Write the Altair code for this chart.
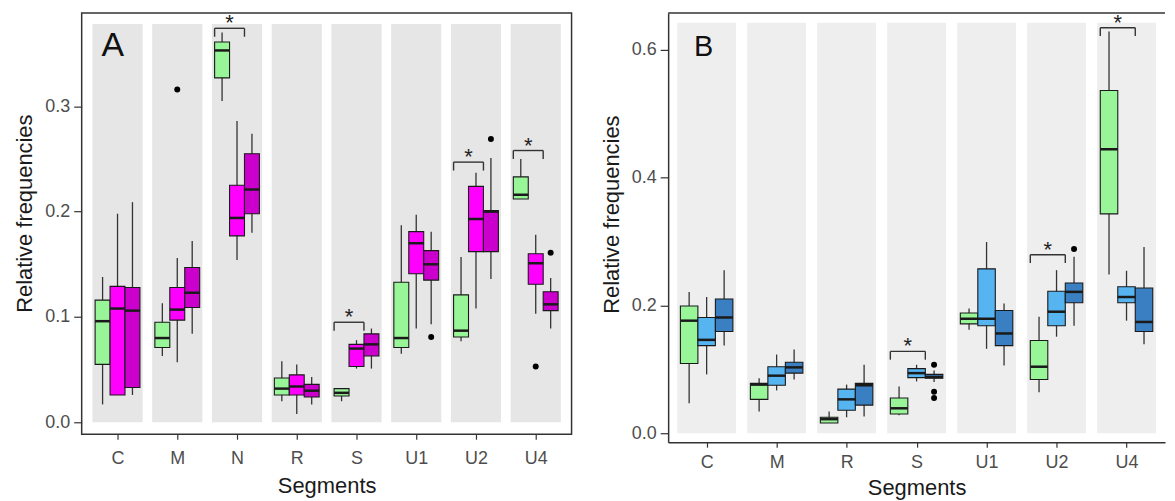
import altair as alt
import pandas as pd

# ---------------- data ----------------
# each box: [lower whisker, Q1, median, Q3, upper whisker]
segments_A = ["C", "M", "N", "R", "S", "U1", "U2", "U4"]
groups_A = ["Group 0", "Group 1", "Group 2"]
colors_A = ["#98f598", "#ff00ff", "#cc00cc"]
green_A = [
    [0.017, 0.055, 0.096, 0.116, 0.138],
    [0.063, 0.071, 0.080, 0.095, 0.113],
    [0.305, 0.327, 0.353, 0.361, 0.370],
    [0.020, 0.026, 0.032, 0.042, 0.058],
    [0.020, 0.025, 0.028, 0.032, 0.032],
    [0.065, 0.071, 0.080, 0.133, 0.187],
    [0.077, 0.081, 0.087, 0.121, 0.157],
    [0.212, 0.212, 0.216, 0.233, 0.250],
]
pink_A = [
    [0.026, 0.026, 0.108, 0.129, 0.198],
    [0.057, 0.097, 0.107, 0.128, 0.156],
    [0.154, 0.177, 0.194, 0.225, 0.286],
    [0.008, 0.026, 0.034, 0.045, 0.055],
    [0.051, 0.053, 0.070, 0.074, 0.078],
    [0.089, 0.141, 0.170, 0.181, 0.197],
    [0.108, 0.162, 0.193, 0.224, 0.237],
    [0.103, 0.131, 0.151, 0.160, 0.178],
]
purple_A = [
    [0.026, 0.033, 0.106, 0.128, 0.209],
    [0.084, 0.109, 0.123, 0.147, 0.172],
    [0.180, 0.198, 0.221, 0.255, 0.274],
    [0.017, 0.024, 0.030, 0.036, 0.043],
    [0.051, 0.063, 0.074, 0.084, 0.089],
    [0.093, 0.135, 0.150, 0.163, 0.181],
    [0.136, 0.162, 0.200, 0.201, 0.251],
    [0.089, 0.106, 0.112, 0.124, 0.137],
]
outliers_A = [("M", 1, 0.316), ("U1", 2, 0.081), ("U2", 2, 0.269),
              ("U4", 1, 0.053), ("U4", 2, 0.161)]
brackets_A = [("N", 0.374), ("S", 0.095), ("U2", 0.247), ("U4", 0.258)]

segments_B = ["C", "M", "R", "S", "U1", "U2", "U4"]
groups_B = ["Group 0", "Group 3", "Group 4"]
colors_B = ["#98f598", "#56b4f0", "#3a7fc1"]
green_B = [
    [0.047, 0.109, 0.176, 0.199, 0.221],
    [0.034, 0.053, 0.076, 0.078, 0.086],
    [0.016, 0.016, 0.022, 0.025, 0.034],
    [0.028, 0.030, 0.039, 0.055, 0.073],
    [0.162, 0.171, 0.179, 0.188, 0.195],
    [0.064, 0.084, 0.104, 0.145, 0.182],
    [0.248, 0.343, 0.444, 0.536, 0.628],
]
light_B = [
    [0.092, 0.137, 0.146, 0.181, 0.213],
    [0.067, 0.075, 0.090, 0.104, 0.123],
    [0.025, 0.036, 0.053, 0.069, 0.076],
    [0.081, 0.087, 0.094, 0.101, 0.107],
    [0.132, 0.168, 0.179, 0.257, 0.299],
    [0.151, 0.168, 0.190, 0.222, 0.255],
    [0.176, 0.204, 0.213, 0.229, 0.254],
]
dark_B = [
    [0.137, 0.159, 0.181, 0.210, 0.255],
    [0.084, 0.094, 0.103, 0.111, 0.131],
    [0.026, 0.044, 0.075, 0.078, 0.107],
    [0.080, 0.086, 0.088, 0.092, 0.098],
    [0.106, 0.137, 0.156, 0.192, 0.203],
    [0.168, 0.204, 0.221, 0.235, 0.276],
    [0.139, 0.159, 0.174, 0.227, 0.291],
]
outliers_B = [("S", 2, 0.107), ("S", 2, 0.065), ("S", 2, 0.055), ("U2", 2, 0.288)]
brackets_B = [("S", 0.128), ("U2", 0.279), ("U4", 0.634)]

FONT = "Liberation Sans"
DODGE = 0.25      # ggplot dodge width 0.75 / 3 groups
BOXW = 0.125      # half box width
BANDW = 0.42      # half width of grey band
FRAME = "#333333"


def panel(segs, groups, colors, series, outliers, brackets, xdom, ydom, yticks,
          band_top, band_color, width, height, letter, letter_size, letter_x,
          tick_drop, xlab_pad, xtitle_pad, ytitle_y, open_right):
    n = len(segs)
    idx = {s: i + 1 for i, s in enumerate(segs)}
    rows = []
    for gi, (g, vals) in enumerate(zip(groups, series)):
        for s, v in zip(segs, vals):
            xc = idx[s] + (gi - 1) * DODGE
            rows.append(dict(seg=s, group=g, xc=xc, x0=xc - BOXW, x1=xc + BOXW,
                             lo=v[0], q1=v[1], med=v[2], q3=v[3], hi=v[4]))
    box = pd.DataFrame(rows)
    bands = pd.DataFrame([dict(seg=s, b0=idx[s] - BANDW, b1=idx[s] + BANDW,
                               top=band_top) for s in segs])
    out = pd.DataFrame([dict(seg=s, group=groups[g], xc=idx[s] + (g - 1) * DODGE, v=v)
                        for s, g, v in outliers])
    br = pd.DataFrame([dict(seg=s, xl=idx[s] - DODGE - BOXW, xr=idx[s] + BOXW,
                            xm=idx[s] - DODGE / 2, y=y, ylo=y - tick_drop)
                       for s, y in brackets])

    xs = alt.Scale(domain=xdom, nice=False, zero=False)
    ys = alt.Scale(domain=ydom, nice=False, zero=False)
    label_expr = "[" + ",".join("'%s'" % s for s in segs) + "][datum.value - 1]"
    dom = dict(domain=True, domainColor=FRAME, domainWidth=1.5) if open_right else {}
    xaxis = alt.Axis(values=list(range(1, n + 1)), labelExpr=label_expr,
                     title="Segments", grid=False, tickSize=5,
                     labelPadding=xlab_pad, titlePadding=xtitle_pad, **dom)
    yaxis = alt.Axis(values=yticks, title="Relative frequencies", grid=False,
                     format=".1f", tickSize=8, labelPadding=4, titlePadding=8,
                     titleY=ytitle_y, **dom)

    def X(f):
        return alt.X(f, scale=xs, axis=xaxis)

    def Y(f):
        return alt.Y(f, scale=ys, axis=yaxis)

    base_band = alt.Chart(bands).mark_rect(color=band_color).encode(
        x=X("b0:Q"), x2="b1", y=Y("top:Q"), y2=alt.datum(0),
    )
    whisk = alt.Chart(box).mark_rule(color="#333333", strokeWidth=1.3).encode(
        x=X("xc:Q"), y=Y("lo:Q"), y2="hi",
    )
    boxes = alt.Chart(box).mark_bar(stroke="#1a1a1a", strokeWidth=1.1).encode(
        x=X("x0:Q"), x2="x1", y=Y("q1:Q"), y2="q3",
        color=alt.Color("group:N", scale=alt.Scale(domain=groups, range=colors),
                        legend=None),
    )
    meds = alt.Chart(box).mark_rule(color="#1a1a1a", strokeWidth=2.5).encode(
        x=X("x0:Q"), x2="x1", y=Y("med:Q"),
    )
    pts = alt.Chart(out).mark_circle(color="black", size=36, opacity=1).encode(
        x=X("xc:Q"), y=Y("v:Q"),
    )
    br_h = alt.Chart(br).mark_rule(color="#333333", strokeWidth=1.4).encode(
        x=X("xl:Q"), x2="xr", y=Y("y:Q"),
    )
    br_l = alt.Chart(br).mark_rule(color="#333333", strokeWidth=1.4).encode(
        x=X("xl:Q"), y=Y("y:Q"), y2="ylo",
    )
    br_r = alt.Chart(br).mark_rule(color="#333333", strokeWidth=1.4).encode(
        x=X("xr:Q"), y=Y("y:Q"), y2="ylo",
    )
    stars = alt.Chart(br).mark_text(text="*", font=FONT, fontSize=22,
                                    baseline="alphabetic", dy=2,
                                    color="#222222").encode(
        x=X("xm:Q"), y=Y("y:Q"),
    )
    lab = alt.Chart(pd.DataFrame({"t": [letter]})).mark_text(
        font=FONT, fontSize=letter_size, align="left", baseline="alphabetic",
        color="#111111").encode(
        text="t:N", x=alt.value(letter_x), y=alt.value(43))

    layers = [base_band, whisk, boxes, meds, pts, br_h, br_l, br_r, stars, lab]
    props = dict(width=width, height=height)
    if open_right:
        top_line = alt.Chart(pd.DataFrame({"t": [0]})).mark_rule(
            color=FRAME, strokeWidth=1.5).encode(
            y=alt.value(0), x=alt.value(0), x2=alt.value(width))
        layers.append(top_line)
        props["view"] = alt.ViewBackground(stroke="transparent")
    return alt.layer(*layers).properties(**props)


pA = panel(segments_A, groups_A, colors_A, [green_A, pink_A, purple_A],
           outliers_A, brackets_A, [0.4, 8.6], [-0.0113, 0.3885],
           [0.0, 0.1, 0.2, 0.3], 0.378, "#e6e6e6", 492, 423, "A", 34, 20,
           0.008, 10, 9, 201, False)
pB = panel(segments_B, groups_B, colors_B, [green_B, light_B, dark_B],
           outliers_B, brackets_B, [0.45, 7.55], [-0.014, 0.657],
           [0.0, 0.2, 0.4, 0.6], 0.642, "#eeeeee", 499, 431, "B", 29, 26,
           0.013, 6, 7, 202, True)

chart = alt.hconcat(pA, pB, spacing=27).resolve_scale(
    x="independent", y="independent", color="independent"
).configure_view(
    stroke=FRAME, strokeWidth=1.5
).configure_axis(
    labelFont=FONT, titleFont=FONT, labelFontSize=18, titleFontSize=22,
    labelColor="#4d4d4d", titleColor="#1a1a1a", titleFontWeight="normal",
    tickColor="#333333", tickWidth=1.2, domain=False,
).properties(
    padding={"left": 5, "top": 2, "right": 0, "bottom": 0},
    background="white",
)

chart.save("out.html", embed_options={"renderer": "svg", "actions": False})
